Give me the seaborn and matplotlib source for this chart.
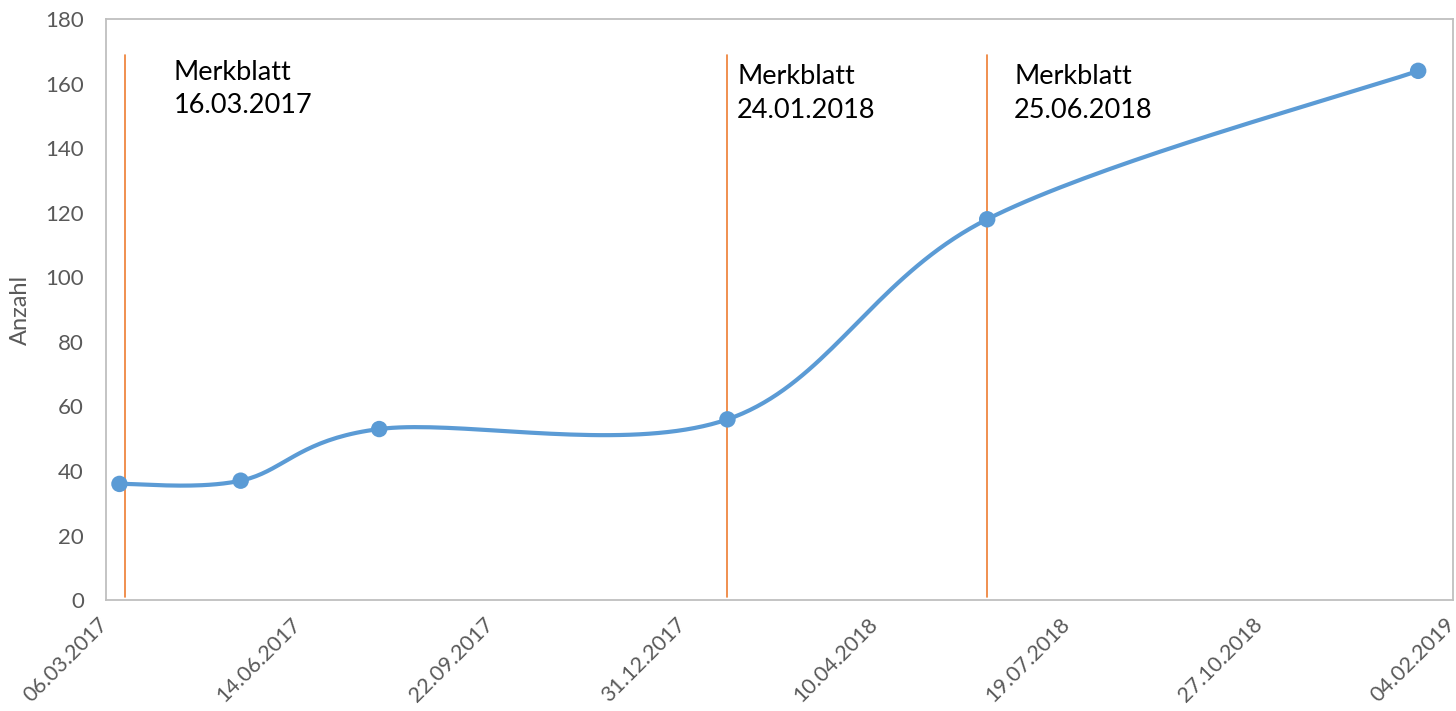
import numpy as np
import pandas as pd
import matplotlib
matplotlib.use("Agg")
import matplotlib.pyplot as plt
import matplotlib.dates as mdates
import matplotlib.transforms as mtransforms
import seaborn as sns

# data
dates = ["13.03.2017", "15.05.2017", "26.07.2017", "23.01.2018", "07.06.2018", "17.01.2019"]
counts = [36, 37, 53, 56, 118, 164]

# vertical marker lines and their text
line_dates = ["16.03.2017", "23.01.2018", "07.06.2018"]
line_labels = ["Merkblatt\n16.03.2017", "Merkblatt\n24.01.2018", "Merkblatt\n25.06.2018"]

x_start, x_end = "06.03.2017", "04.02.2019"
tick_step_days = 100

BLUE = "#5B9BD5"
ORANGE = "#ED7D31"
GRAY = "#595959"


def smooth_curve(x, y, n=40):
    """Catmull-Rom spline through the points (like Excel's smoothed line)."""
    pts = np.column_stack([x, y]).astype(float)
    ext = np.vstack([pts[0], pts, pts[-1]])
    out = []
    t = np.linspace(0, 1, n)[:, None]
    for i in range(1, len(ext) - 2):
        p0, p1, p2, p3 = ext[i - 1], ext[i], ext[i + 1], ext[i + 2]
        c1 = p1 + (p2 - p0) / 6
        c2 = p2 - (p3 - p1) / 6
        seg = ((1 - t) ** 3) * p1 + 3 * ((1 - t) ** 2) * t * c1 + 3 * (1 - t) * t ** 2 * c2 + t ** 3 * p2
        out.append(seg if i == 1 else seg[1:])
    out = np.vstack(out)
    return out[:, 0], out[:, 1]


df = pd.DataFrame({"date": pd.to_datetime(dates, format="%d.%m.%Y"), "count": counts})
df["x"] = mdates.date2num(df["date"])

sns.set_style("white")
plt.rcParams["font.family"] = ["Lato", "DejaVu Sans"]

fig = plt.figure(figsize=(14.56, 7.11), dpi=100)
ax = fig.add_axes([0.0728, 0.156, 0.925, 0.817])

sx, sy = smooth_curve(df["x"].values, df["count"].values)
sns.lineplot(x=sx, y=sy, ax=ax, color=BLUE, linewidth=3.0, sort=False, estimator=None)
sns.scatterplot(data=df, x="x", y="count", ax=ax, color=BLUE, s=140, edgecolor="none", zorder=5)

for d in line_dates:
    xv = mdates.date2num(pd.to_datetime(d, format="%d.%m.%Y"))
    ax.plot([xv, xv], [1, 169], color=ORANGE, linewidth=1.2, zorder=3)

label_pos = [("16.03.2017", 25, 167.5), ("23.01.2018", 5, 166), ("07.06.2018", 14, 166)]
for (d, off, yv), lab in zip(label_pos, line_labels):
    xv = mdates.date2num(pd.to_datetime(d, format="%d.%m.%Y")) + off
    ax.text(xv, yv, lab, fontsize=19.5, color="black", va="top", ha="left", linespacing=1.42)

x0 = mdates.date2num(pd.to_datetime(x_start, format="%d.%m.%Y"))
x1 = mdates.date2num(pd.to_datetime(x_end, format="%d.%m.%Y"))
ax.set_xlim(x0, x1)
ax.set_xticks(np.arange(x0, x1 + 1, tick_step_days))
ax.xaxis.set_major_formatter(mdates.DateFormatter("%d.%m.%Y"))
ax.set_ylim(0, 180)
ax.set_yticks(range(0, 181, 20))

ax.tick_params(axis="x", length=0, pad=10, labelsize=15.5, labelcolor=GRAY)
ax.tick_params(axis="y", length=0, pad=16, labelsize=16, labelcolor=GRAY)
# nudge the rotated date labels left a little so the last one stays inside
shift = mtransforms.ScaledTranslation(-8 / 100, 0, fig.dpi_scale_trans)
for lbl in ax.get_xticklabels():
    lbl.set_rotation(45)
    lbl.set_ha("right")
    lbl.set_rotation_mode("anchor")
    lbl.set_transform(lbl.get_transform() + shift)

ax.set_xlabel("")
ax.set_ylabel("Anzahl", fontsize=17, color=GRAY, labelpad=10)

for sp in ax.spines.values():
    sp.set_color("#BFBFBF")
    sp.set_linewidth(1.3)

fig.savefig("out.png", dpi=100)
